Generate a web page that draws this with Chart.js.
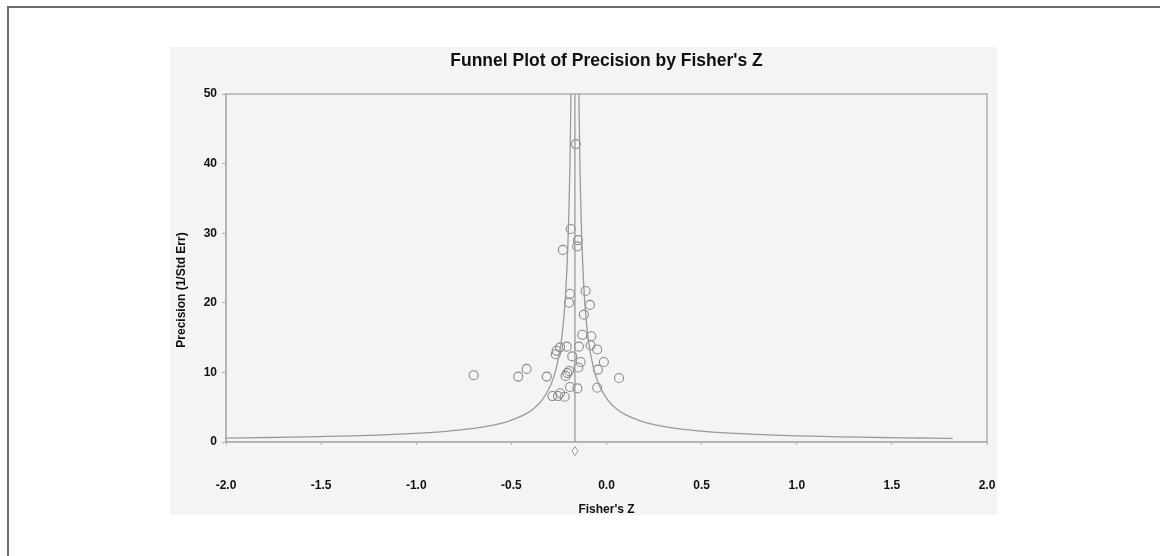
<!DOCTYPE html>
<html>
<head>
<meta charset="utf-8">
<script src="https://cdn.jsdelivr.net/npm/chart.js@4.4.1/dist/chart.umd.min.js"></script>
<style>
  html, body { margin: 0; padding: 0; background: #ffffff; }
  #wrap { width: 1160px; height: 556px; position: relative; }
</style>
</head>
<body>
<div id="wrap"><canvas id="c" width="1160" height="556"></canvas></div>
<script>
// ---- Data ----
const chartTitle = "Funnel Plot of Precision by Fisher's Z";
const xAxisTitle = "Fisher's Z";
const yAxisTitle = "Precision (1/Std Err)";
const xTicks = [-2.0, -1.5, -1.0, -0.5, 0.0, 0.5, 1.0, 1.5, 2.0];
const yTicks = [0, 10, 20, 30, 40, 50];

// Observed studies: Fisher's Z and precision
const studyZ = [
  -0.161, -0.188, -0.150, -0.154, -0.229,
  -0.192, -0.110, -0.197, -0.087, -0.119,
  -0.127, -0.080, -0.084, -0.049, -0.145,
  -0.209, -0.244, -0.262, -0.267, -0.180,
  -0.136, -0.014, -0.148, -0.045, -0.197,
  -0.206, -0.215, -0.420, -0.464, -0.698,
  -0.314,  0.066, -0.192, -0.153, -0.049,
  -0.284, -0.244, -0.255, -0.220
];
const studyPrecision = [
  42.8, 30.6, 29.0, 28.1, 27.6,
  21.3, 21.7, 20.0, 19.7, 18.3,
  15.4, 15.2, 13.9, 13.3, 13.7,
  13.7, 13.6, 13.1, 12.6, 12.3,
  11.5, 11.5, 10.7, 10.4, 10.2,
   9.9,  9.5, 10.5,  9.4,  9.6,
   9.4,  9.2,  7.9,  7.7,  7.8,
   6.6,  7.0,  6.6,  6.5
];

// Summary effect (vertical line and diamond below the axis)
const meanZ = -0.166;
const summaryPrecision = -1.3;

// Funnel limits
const funnelPrecision = [50, 40, 30, 25, 20, 15, 12, 10, 8, 6, 5, 4, 3, 2.5, 2, 1.5, 1.2, 1, 0.8, 0.7, 0.6, 0.57];
const funnelLowerZ = [-0.187, -0.192, -0.201, -0.208, -0.218, -0.235, -0.253, -0.270, -0.296, -0.339, -0.374, -0.426, -0.513, -0.582, -0.686, -0.859, -1.033, -1.206, -1.466, -1.652, -1.900, -2.000];
const funnelUpperPrecision = [50, 40, 30, 25, 20, 15, 12, 10, 8, 6, 5, 4, 3, 2.5, 2, 1.5, 1.2, 1, 0.8, 0.7, 0.6, 0.55, 0.52];
const funnelUpperZ = [-0.145, -0.140, -0.131, -0.124, -0.114, -0.097, -0.079, -0.062, -0.036, 0.007, 0.042, 0.094, 0.181, 0.250, 0.354, 0.527, 0.700, 0.874, 1.134, 1.320, 1.568, 1.720, 1.820];

// ---- Build datasets ----
const pts = (xs, ys) => xs.map((x, i) => ({ x: x, y: ys[i] }));

const GRAY_LINE = '#9a9a9a';
const FRAME = '#b0b0b0';
const FONT = '"Liberation Sans", Arial, sans-serif';

const decorPlugin = {
  id: 'decor',
  beforeDraw(chart) {
    const ctx = chart.ctx;
    ctx.save();
    ctx.fillStyle = '#ffffff';
    ctx.fillRect(0, 0, chart.width, chart.height);
    // light textured panel
    ctx.fillStyle = '#f4f4f4';
    ctx.fillRect(170, 47, 827, 468);
    // outer figure border (top and left)
    ctx.strokeStyle = '#6a6a6a';
    ctx.lineWidth = 2;
    ctx.beginPath();
    ctx.moveTo(8, 556);
    ctx.lineTo(8, 7);
    ctx.lineTo(1160, 7);
    ctx.stroke();
    ctx.restore();
  },
  beforeDatasetsDraw(chart) {
    const ctx = chart.ctx;
    const a = chart.chartArea;
    ctx.save();
    ctx.strokeStyle = FRAME;
    ctx.lineWidth = 1.5;
    ctx.strokeRect(a.left, a.top, a.right - a.left, a.bottom - a.top);
    ctx.restore();
  },
  afterDatasetsDraw(chart) {
    // summary diamond, placed through the chart's own scales (sits below the axis)
    const ctx = chart.ctx;
    const px = chart.scales.x.getPixelForValue(meanZ);
    const py = chart.scales.y.getPixelForValue(summaryPrecision);
    ctx.save();
    ctx.strokeStyle = '#9a9a9a';
    ctx.fillStyle = '#ffffff';
    ctx.lineWidth = 1;
    ctx.beginPath();
    ctx.moveTo(px, py - 4.5);
    ctx.lineTo(px + 3, py);
    ctx.lineTo(px, py + 4.5);
    ctx.lineTo(px - 3, py);
    ctx.closePath();
    ctx.fill();
    ctx.stroke();
    ctx.restore();
  },
  afterDraw(chart) {
    const ctx = chart.ctx;
    const a = chart.chartArea;
    ctx.save();
    ctx.fillStyle = '#111111';
    ctx.textAlign = 'center';
    ctx.textBaseline = 'middle';
    ctx.font = 'bold 17.5px ' + FONT;
    ctx.fillText(chartTitle, (a.left + a.right) / 2, 61);
    ctx.font = 'bold 12px ' + FONT;
    ctx.fillText(xAxisTitle, (a.left + a.right) / 2, 510);
    ctx.translate(182, 290);
    ctx.rotate(-Math.PI / 2);
    ctx.fillText(yAxisTitle, 0, 0);
    ctx.restore();
  }
};

new Chart(document.getElementById('c'), {
  type: 'scatter',
  data: {
    datasets: [
      {
        label: 'Lower limit',
        data: pts(funnelLowerZ, funnelPrecision),
        showLine: true, pointRadius: 0, borderColor: GRAY_LINE, borderWidth: 1.3,
        tension: 0.3, fill: false
      },
      {
        label: 'Upper limit',
        data: pts(funnelUpperZ, funnelUpperPrecision),
        showLine: true, pointRadius: 0, borderColor: GRAY_LINE, borderWidth: 1.3,
        tension: 0.3, fill: false
      },
      {
        label: 'Mean',
        data: [{ x: meanZ, y: 0 }, { x: meanZ, y: 50 }],
        showLine: true, pointRadius: 0, borderColor: GRAY_LINE, borderWidth: 1.3
      },
      {
        label: 'Studies',
        data: pts(studyZ, studyPrecision),
        pointRadius: 4.5, pointHoverRadius: 4.5,
        pointBackgroundColor: 'rgba(0,0,0,0)', pointBorderColor: '#8a8a8a', pointBorderWidth: 1.1
      }
    ]
  },
  options: {
    responsive: false,
    animation: false,
    events: [],
    layout: { padding: { top: 94, right: 173, left: 0, bottom: 0 } },
    plugins: {
      legend: { display: false },
      title: { display: false },
      tooltip: { enabled: false }
    },
    scales: {
      x: {
        type: 'linear',
        min: -2, max: 2,
        afterFit(scale) { scale.height = 114; },
        afterBuildTicks(scale) { scale.ticks = xTicks.map(v => ({ value: v })); },
        border: { display: true, color: FRAME, width: 1.5 },
        grid: { drawOnChartArea: false, drawTicks: true, tickLength: 3, color: FRAME },
        ticks: {
          padding: 33,
          color: '#111111',
          font: { family: FONT, size: 12, weight: 'bold' },
          callback: v => Number(v).toFixed(1)
        }
      },
      y: {
        type: 'linear',
        min: 0, max: 50,
        afterFit(scale) { scale.width = 226; },
        afterBuildTicks(scale) { scale.ticks = yTicks.map(v => ({ value: v })); },
        border: { display: true, color: FRAME, width: 1.5 },
        grid: { drawOnChartArea: false, drawTicks: true, tickLength: 4, color: FRAME },
        ticks: {
          padding: 5,
          color: '#111111',
          font: { family: FONT, size: 12, weight: 'bold' },
          callback: v => String(v)
        }
      }
    }
  },
  plugins: [decorPlugin]
});
</script>
</body>
</html>
